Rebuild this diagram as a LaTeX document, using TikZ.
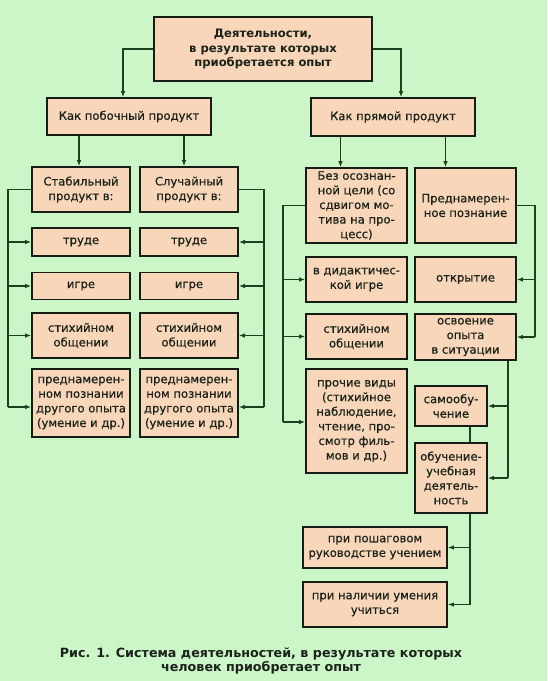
\documentclass[tikz,border=0pt]{standalone}
\usepackage{fontspec}
\setmainfont{DejaVu Sans}
\newfontface\boxface{DejaVu Sans}[FakeBold=0.6]
\usetikzlibrary{arrows.meta}
\definecolor{bg}{HTML}{CCF6C8}
\definecolor{boxfill}{HTML}{F8D6BA}
\definecolor{boxline}{HTML}{141E14}
\definecolor{conn}{HTML}{1C401E}
\definecolor{txt}{HTML}{1A221A}
\newcommand{\boxfont}{\fontsize{11.6}{14.6}\selectfont\boxface}
\newcommand{\topfont}{\fontsize{11.6}{14.6}\selectfont\bfseries}
\newcommand{\capfont}{\fontsize{12.7}{14}\selectfont\bfseries}
\tikzset{
  box/.style={draw=boxline, fill=boxfill, line width=1.6pt, inner sep=0pt, align=center, text=txt, font=\boxfont},
  conline/.style={draw=conn, line width=1.2pt},
  arr/.style={conline, -{Latex[length=6pt,width=4.5pt]}}
}
\begin{document}
\begin{tikzpicture}[x=1pt,y=-1pt]
\fill[bg] (0,0) rectangle (547,681);
\useasboundingbox (0,0) rectangle (547,681);
% top
\node[box, font=\topfont, minimum width=218, minimum height=64] (top) at (263,49) {Деятельности,\\в результате которых\\приобретается опыт};
\node[box, minimum width=164, minimum height=37] (pob) at (129,116.5) {Как побочный продукт};
\node[box, minimum width=164, minimum height=38] (pryam) at (393,117) {Как прямой продукт};
% left columns
\node[box, minimum width=98, minimum height=45] (stab) at (81,189.5) {Стабильный\\продукт в:};
\node[box, minimum width=98, minimum height=45] (sluch) at (189,189.5) {Случайный\\продукт в:};
\node[box, minimum width=98, minimum height=28] (trudeL) at (81,242) {труде};
\node[box, minimum width=98, minimum height=28] (trudeR) at (189,242) {труде};
\node[box, minimum width=98, minimum height=27] (igreL) at (81,286) {игре};
\node[box, minimum width=98, minimum height=27] (igreR) at (189,286) {игре};
\node[box, minimum width=98, minimum height=45] (stikhL) at (81,335.5) {стихийном\\общении};
\node[box, minimum width=98, minimum height=45] (stikhR) at (189,335.5) {стихийном\\общении};
\node[box, minimum width=98, minimum height=68] (prednL) at (81,403) {преднамерен-\\ном познании\\другого опыта\\(умение и др.)};
\node[box, minimum width=98, minimum height=68] (prednR) at (189,403) {преднамерен-\\ном познании\\другого опыта\\(умение и др.)};
% right columns
\node[box, minimum width=101, minimum height=75] (bez) at (356.5,205.5) {Без осознан-\\ной цели (со\\сдвигом мо-\\тива на про-\\цесс)};
\node[box, minimum width=101, minimum height=75] (prednam) at (465.5,205.5) {Преднамерен-\\ное познание};
\node[box, minimum width=101, minimum height=45] (didakt) at (356.5,279.5) {в дидактичес-\\кой игре};
\node[box, minimum width=101, minimum height=45] (otkr) at (465.5,279.5) {открытие};
\node[box, minimum width=101, minimum height=45] (stikhM) at (356.5,336.5) {стихийном\\общении};
\node[box, minimum width=101, minimum height=46] (osvo) at (465.5,337) {освоение\\опыта\\в ситуации};
\node[box, minimum width=101, minimum height=104] (prochie) at (356.5,421) {прочие виды\\(стихийное\\наблюдение,\\чтение, про-\\смотр филь-\\мов и др.)};
\node[box, minimum width=72, minimum height=40] (samoob) at (451,406) {самообу-\\чение};
\node[box, minimum width=72, minimum height=70] (obuch) at (451,478) {обучение-\\учебная\\деятель-\\ность};
\node[box, minimum width=144, minimum height=41] (poshag) at (375,547.5) {при пошаговом\\руководстве учением};
\node[box, minimum width=144, minimum height=45] (nalich) at (375,604.5) {при наличии умения\\учиться};
% caption
\node[font=\capfont, align=center, text=txt, inner sep=0pt] (cap) at (261,661) {Рис. 1. Система деятельностей, в результате которых\\человек приобретает опыт};
% bus coordinates
\coordinate (busL) at (8,0);
\coordinate (busR) at (264,0);
\coordinate (busM) at (283,0);
\coordinate (busP) at (535,0);
\coordinate (busO) at (508,0);
\coordinate (busB) at (470,0);
% top connectors
\draw[arr] (top.west) -| ([xshift=-6pt]pob.north);
\draw[arr] (top.east) -| ([xshift=8pt]pryam.north);
\draw[arr] ([xshift=-2pt]stab.north |- pob.south) -- ([xshift=-2pt]stab.north);
\draw[arr] ([xshift=-5pt]sluch.north |- pob.south) -- ([xshift=-5pt]sluch.north);
\draw[arr] ([xshift=-16pt]bez.north |- pryam.south) -- ([xshift=-16pt]bez.north);
\draw[arr] ([xshift=-20pt]prednam.north |- pryam.south) -- ([xshift=-20pt]prednam.north);
% left bus
\draw[conline] (stab.west) -- (busL |- stab.west) -- (busL |- 0,407);
\draw[arr] (busL |- trudeL.west) -- (trudeL.west);
\draw[arr] (busL |- igreL.west) -- (igreL.west);
\draw[arr] (busL |- stikhL.west) -- (stikhL.west);
\draw[arr] (busL |- 0,407) -- (prednL.west |- 0,407);
% sluch bus
\draw[conline] (sluch.east) -- (busR |- sluch.east) -- (busR |- 0,407);
\draw[arr] (busR |- trudeR.east) -- (trudeR.east);
\draw[arr] (busR |- igreR.east) -- (igreR.east);
\draw[arr] (busR |- stikhR.east) -- (stikhR.east);
\draw[arr] (busR |- 0,407) -- (prednR.east |- 0,407);
% bez bus
\draw[conline] (bez.west) -- (busM |- bez.west) -- (busM |- 0,422);
\draw[arr] (busM |- didakt.west) -- (didakt.west);
\draw[arr] (busM |- stikhM.west) -- (stikhM.west);
\draw[arr] (busM |- 0,422) -- (prochie.west |- 0,422);
% prednam bus
\draw[conline] (prednam.east) -- (busP |- prednam.east) -- (busP |- osvo.east);
\draw[arr] (busP |- otkr.east) -- (otkr.east);
\draw[arr] (busP |- osvo.east) -- (osvo.east);
% osvo down
\draw[conline] (busO |- osvo.south) -- (busO |- 0,478);
\draw[arr] (busO |- samoob.east) -- (samoob.east);
\draw[arr] (busO |- 0,478) -- (obuch.east |- 0,478);
% samoob - obuch
\draw[conline] (busB |- samoob.south) -- (busB |- obuch.north);
% obuch down
\draw[conline] (busB |- obuch.south) -- (busB |- nalich.east);
\draw[arr] (busB |- poshag.east) -- (poshag.east);
\draw[arr] (busB |- nalich.east) -- (nalich.east);
\end{tikzpicture}
\end{document}
